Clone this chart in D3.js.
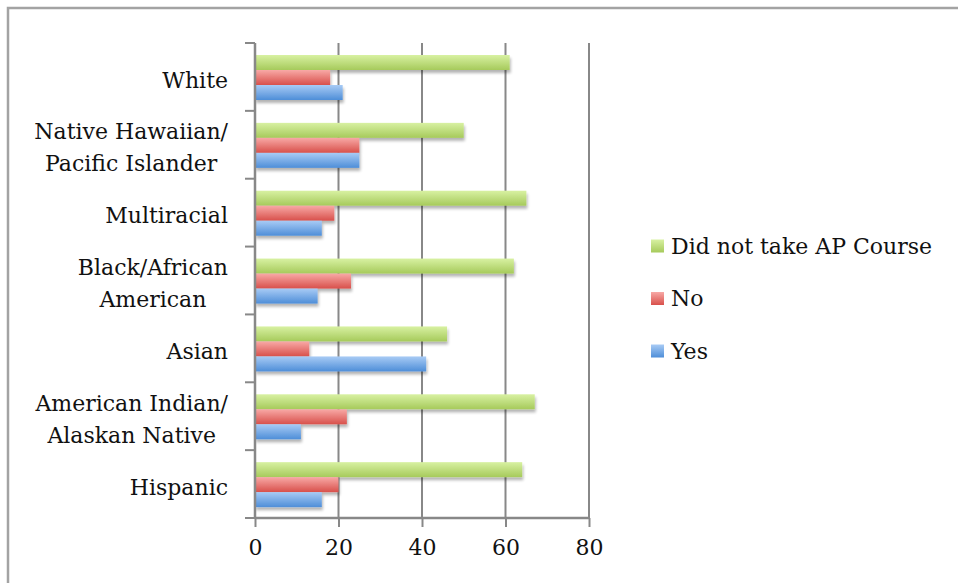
<!DOCTYPE html>
<html><head><meta charset="utf-8">
<script src="https://cdn.jsdelivr.net/npm/d3@7"></script>
<style>body{margin:0;background:#fff;}svg{display:block;}</style>
</head><body>
<svg id="c" width="958" height="583"></svg>
<script>
const categories = [["White"],["Native Hawaiian/","Pacific Islander"],["Multiracial"],["Black/African","American"],["Asian"],["American Indian/","Alaskan Native"],["Hispanic"]];
const seriesNames = ["Did not take AP Course","No","Yes"];
const didNotTake = [61,50,65,62,46,67,64];
const no = [18,25,19,23,13,22,20];
const yes = [21,25,16,15,41,11,16];
const xTicks = [0,20,40,60,80];

const series = [didNotTake,no,yes];
const grads = [["#d8f1a2","#a6ca5b"],["#f8a9a6","#d8504b"],["#a8cbf5","#4e8ed8"]];
const svg = d3.select("#c");
const font = "DejaVu Serif";
const defs = svg.append("defs");
grads.forEach((g,i)=>{
  const lg = defs.append("linearGradient").attr("id","g"+i).attr("x1",0).attr("y1",0).attr("x2",0).attr("y2",1);
  lg.append("stop").attr("offset","0%").attr("stop-color",g[0]);
  lg.append("stop").attr("offset","100%").attr("stop-color",g[1]);
});
const sh = defs.append("filter").attr("id","sh").attr("x","-5%").attr("y","-20%").attr("width","115%").attr("height","160%");
sh.append("feGaussianBlur").attr("in","SourceAlpha").attr("stdDeviation",1.6);
sh.append("feOffset").attr("dx",1).attr("dy",3).attr("result","b");
sh.append("feComponentTransfer").append("feFuncA").attr("type","linear").attr("slope",0.3);
const m = sh.append("feMerge"); m.append("feMergeNode"); m.append("feMergeNode").attr("in","SourceGraphic");

// frame
svg.append("path").attr("d","M8,583 L8,8 L958,8").attr("fill","none").attr("stroke","#a3a3a3").attr("stroke-width",2.5);

const x = d3.scaleLinear().domain([0,80]).range([255,589]);
const y = d3.scaleBand().domain(d3.range(categories.length)).range([43,518]);
const bh = 15, off = 12;

// gridlines
svg.append("g").selectAll("line").data(xTicks.slice(1)).join("line")
  .attr("x1",d=>x(d)).attr("x2",d=>x(d)).attr("y1",43).attr("y2",518)
  .attr("stroke","#888").attr("stroke-width",2);

// bars
series.forEach((s,si)=>{
  svg.append("g").attr("filter","url(#sh)").selectAll("rect").data(s).join("rect")
    .attr("x",x(0)).attr("y",(d,i)=>y(i)+off+si*bh)
    .attr("width",d=>x(d)-x(0)).attr("height",bh)
    .attr("fill","url(#g"+si+")");
});

// y axis
const ya = svg.append("g");
ya.append("line").attr("x1",255).attr("x2",255).attr("y1",43).attr("y2",518).attr("stroke","#888").attr("stroke-width",2.5);
ya.selectAll("line.t").data(d3.range(categories.length+1)).join("line").attr("class","t")
  .attr("x1",245).attr("x2",255).attr("y1",i=>43+i*y.step()).attr("y2",i=>43+i*y.step())
  .attr("stroke","#888").attr("stroke-width",2);
// x axis
const xa = svg.append("g").attr("transform","translate(0,518)")
  .call(d3.axisBottom(x).tickValues(xTicks).tickSize(9).tickPadding(12).tickFormat(d3.format("d")));
xa.select(".domain").attr("stroke","#888").attr("stroke-width",2.5).attr("d","M255,0H589");
xa.selectAll(".tick line").attr("stroke","#888").attr("stroke-width",2);
xa.selectAll(".tick text").attr("font-family",font).attr("font-size",22).attr("fill","#111");

// category labels (multi-line centred within a right-aligned block)
categories.forEach((lines,i)=>{
  const cy = y(i)+y.bandwidth()/2 + 3;
  const lh = 32;
  const g = svg.append("g");
  const tsp = lines.map((l,li)=> g.append("text").attr("font-family",font).attr("font-size",22).attr("fill","#111")
      .attr("text-anchor","middle").attr("y",cy + (li-(lines.length-1)/2)*lh).attr("dy","0.35em").text(l));
  const maxW = d3.max(tsp, t=>t.node().getComputedTextLength());
  tsp.forEach(t=>t.attr("x",228-maxW/2));
});

// legend
seriesNames.forEach((n,i)=>{
  const ly = 246 + i*52.5;
  svg.append("rect").attr("x",651).attr("y",ly-6.5).attr("width",13).attr("height",13).attr("fill","url(#g"+i+")");
  svg.append("text").attr("x",671).attr("y",ly).attr("dy","0.35em").attr("font-family",font).attr("font-size",22).attr("fill","#111").text(n);
});
</script>
</body></html>
